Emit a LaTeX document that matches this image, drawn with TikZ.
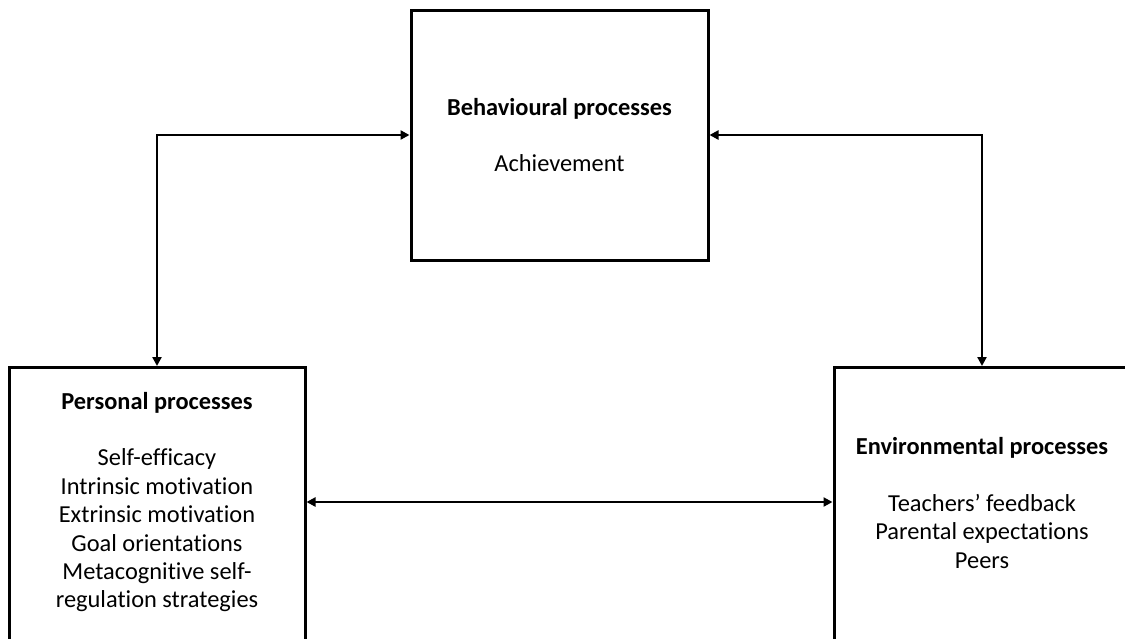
\documentclass[tikz,border=0pt]{standalone}
\usepackage{fontspec}
\setmainfont{Carlito}[Ligatures=NoCommon]
\usetikzlibrary{calc,arrows.meta}

\tikzset{
    procbox/.style={draw, line width=1.5pt, rectangle, inner sep=0pt},
    proctext/.style={align=center, font=\fontsize{12.2}{14.2}\selectfont},
    link/.style={line width=1.3pt, {Triangle[length=4.5pt,width=4.5pt]}-{Triangle[length=4.5pt,width=4.5pt]}}
}

\begin{document}
\begin{tikzpicture}[x=0.5pt, y=-0.5pt]
            \useasboundingbox (0,0) rectangle (1125,638);
            \clip (0,0) rectangle (1125,638);

            \node (Beh) at (559.5,135) [procbox, minimum width=148.5pt, minimum height=125pt] {};
            \node (Pers) at (157,366) [procbox, anchor=north, minimum width=148pt, minimum height=160pt] {};
            \node (Env) at (982,366) [procbox, anchor=north, minimum width=148pt, minimum height=160pt] {};

            \node (BehText) at (Beh) [proctext] {\textbf{Behavioural processes}\\[14.2pt]
                Achievement};
            \node (PersText) at ($(Pers.north) + (0,136)$) [proctext] {\textbf{Personal processes}\\[14.2pt]
                Self-efficacy\\ Intrinsic motivation\\ Extrinsic motivation\\
                Goal orientations\\ Metacognitive self-\\ regulation strategies};
            \node (EnvText) at ($(Env.north) + (0,137)$) [proctext] {\textbf{Environmental processes}\\[14.2pt]
                Teachers’ feedback\\ Parental expectations\\ Peers};

            \draw [link] (Beh.west) -| (Pers.north);
            \draw [link] (Beh.east) -| (Env.north);
            \draw [link] (Pers.east |- PersText) -- (Env.west |- PersText);

        \end{tikzpicture}
\end{document}
